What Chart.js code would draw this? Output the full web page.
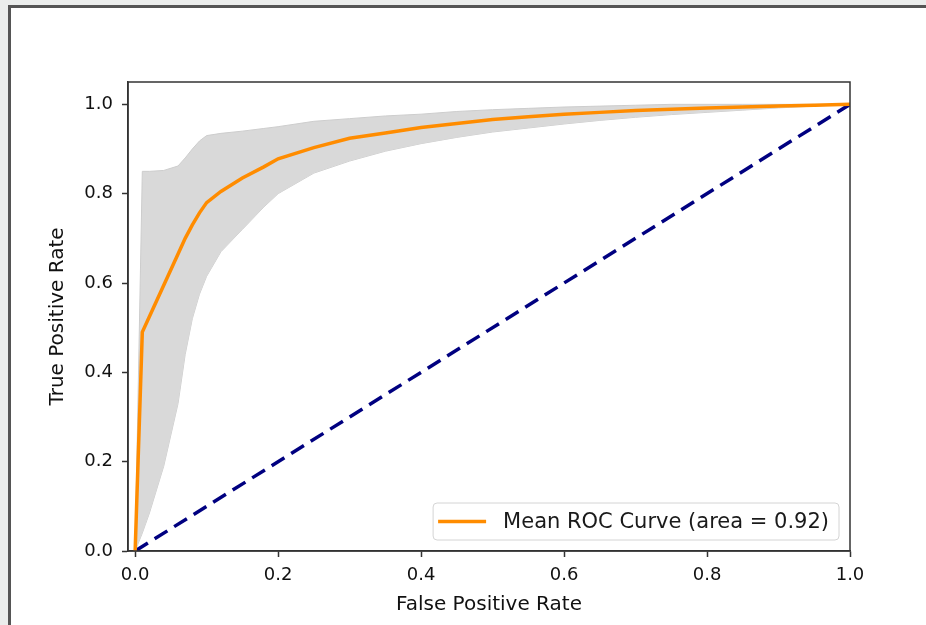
<!DOCTYPE html>
<html>
<head>
<meta charset="utf-8">
<script src="https://cdn.jsdelivr.net/npm/chart.js@4.4.1/dist/chart.umd.min.js"></script>
<style>
  html, body { margin: 0; padding: 0; background: #ebedec; width: 926px; height: 625px; overflow: hidden; }
  #panel { position: absolute; left: 8px; top: 5px; width: 940px; height: 640px; background: #fff;
           border-left: 3px solid #555; border-top: 3px solid #555; }
  #roc { position: absolute; left: 0; top: 0; }
</style>
</head>
<body>
<div id="panel"></div>
<canvas id="roc" width="926" height="625"></canvas>
<script>
// false positive rate grid (x) and the curves
const fpr      = [0, 0.01, 0.02, 0.04, 0.06, 0.07, 0.08, 0.09, 0.10, 0.12, 0.15, 0.18, 0.20, 0.25, 0.30, 0.35, 0.40, 0.45, 0.50, 0.55, 0.60, 0.65, 0.70, 0.75, 0.80, 0.85, 0.90, 0.95, 1.0];
const tprMean  = [0, 0.49, 0.525, 0.595, 0.665, 0.70, 0.73, 0.757, 0.78, 0.805, 0.835, 0.86, 0.878, 0.903, 0.924, 0.936, 0.948, 0.957, 0.966, 0.972, 0.978, 0.982, 0.986, 0.989, 0.992, 0.994, 0.996, 0.998, 1.0];
const tprUpper = [0, 0.85, 0.85, 0.852, 0.862, 0.88, 0.90, 0.918, 0.93, 0.935, 0.94, 0.946, 0.95, 0.962, 0.968, 0.974, 0.978, 0.984, 0.988, 0.991, 0.994, 0.996, 0.998, 1.0, 1.0, 1.0, 1.0, 1.0, 1.0];
const tprLower = [0, 0.04, 0.085, 0.19, 0.33, 0.44, 0.52, 0.575, 0.615, 0.67, 0.72, 0.77, 0.80, 0.846, 0.873, 0.895, 0.912, 0.926, 0.938, 0.947, 0.956, 0.964, 0.971, 0.977, 0.982, 0.987, 0.992, 0.996, 1.0];
const chanceX  = [0, 1];
const chanceY  = [0, 1];
const xTicks   = [0, 0.2, 0.4, 0.6, 0.8, 1.0];
const yTicks   = [0, 0.2, 0.4, 0.6, 0.8, 1.0];
const meanLabel = 'Mean ROC Curve (area = 0.92)';

const pts = (xs, ys) => xs.map((x, i) => ({ x: x, y: ys[i] }));

// top + right spines, and a legend box inside the plot like matplotlib's
const frameAndLegend = {
  id: 'frameAndLegend',
  afterDatasetsDraw(chart) {
    const { ctx, chartArea: a } = chart;
    ctx.save();
    ctx.strokeStyle = '#333';
    ctx.lineWidth = 1.5;
    ctx.strokeRect(a.left, a.top, a.right - a.left, a.bottom - a.top);

    ctx.font = '21px "DejaVu Sans"';
    const tw = ctx.measureText(meanLabel).width;
    const w = tw + 80, h = 37;
    const x = a.right - 11 - w, y = a.bottom - 11 - h;
    ctx.beginPath();
    ctx.roundRect(x, y, w, h, 4);
    ctx.fillStyle = 'rgba(255,255,255,0.85)';
    ctx.fill();
    ctx.strokeStyle = '#d4d4d4';
    ctx.lineWidth = 1;
    ctx.stroke();
    ctx.beginPath();
    ctx.moveTo(x + 5, y + h / 2);
    ctx.lineTo(x + 53, y + h / 2);
    ctx.strokeStyle = 'darkorange';
    ctx.lineWidth = 3.5;
    ctx.stroke();
    ctx.fillStyle = '#1a1a1a';
    ctx.textBaseline = 'middle';
    ctx.fillText(meanLabel, x + 70, y + h / 2 + 1);
    ctx.restore();
  }
};

new Chart(document.getElementById('roc'), {
  type: 'line',
  data: {
    datasets: [{
      label: meanLabel,
      data: pts(fpr, tprMean),
      borderColor: 'darkorange',
      borderWidth: 3.5,
      pointRadius: 0,
      fill: false
    }, {
      label: 'chance',
      data: pts(chanceX, chanceY),
      borderColor: '#000080',
      borderWidth: 3.5,
      borderDash: [15, 8],
      pointRadius: 0,
      fill: false
    }, {
      label: 'upper',
      data: pts(fpr, tprUpper),
      borderColor: '#cdcdcd',
      borderWidth: 1,
      pointRadius: 0,
      backgroundColor: '#d9d9d9',
      fill: '+1'
    }, {
      label: 'lower',
      data: pts(fpr, tprLower),
      borderColor: '#cdcdcd',
      borderWidth: 1,
      pointRadius: 0,
      fill: false
    }]
  },
  options: {
    responsive: false,
    animation: false,
    layout: { padding: { left: 0, top: 82, right: 76, bottom: 0 } },
    plugins: {
      legend: { display: false },
      tooltip: { enabled: false }
    },
    scales: {
      x: {
        type: 'linear',
        min: -0.01,
        max: 1.0,
        afterBuildTicks: (s) => { s.ticks = xTicks.map(v => ({ value: v })); },
        afterFit: (s) => { s.height = 74; },
        grid: { drawOnChartArea: false, drawTicks: true, tickLength: 6, tickWidth: 1.5, color: '#333' },
        border: { display: true, color: '#333', width: 1.5 },
        ticks: { padding: 8, color: '#111', font: { family: 'DejaVu Sans', size: 18 }, callback: (v) => v.toFixed(1) },
        title: { display: true, text: 'False Positive Rate', color: '#111', font: { family: 'DejaVu Sans', size: 20 }, padding: { top: 0, bottom: 8 } }
      },
      y: {
        type: 'linear',
        min: 0,
        max: 1.05,
        afterBuildTicks: (s) => { s.ticks = yTicks.map(v => ({ value: v })); },
        afterFit: (s) => { s.width = 128; },
        grid: { drawOnChartArea: false, drawTicks: true, tickLength: 6, tickWidth: 1.5, color: '#333' },
        border: { display: true, color: '#333', width: 1.5 },
        ticks: { padding: 9, color: '#111', font: { family: 'DejaVu Sans', size: 18 }, callback: (v) => v.toFixed(1) },
        title: { display: true, text: 'True Positive Rate', color: '#111', font: { family: 'DejaVu Sans', size: 20 }, padding: { top: 46, bottom: 0 } }
      }
    }
  },
  plugins: [frameAndLegend]
});
</script>
</body>
</html>
